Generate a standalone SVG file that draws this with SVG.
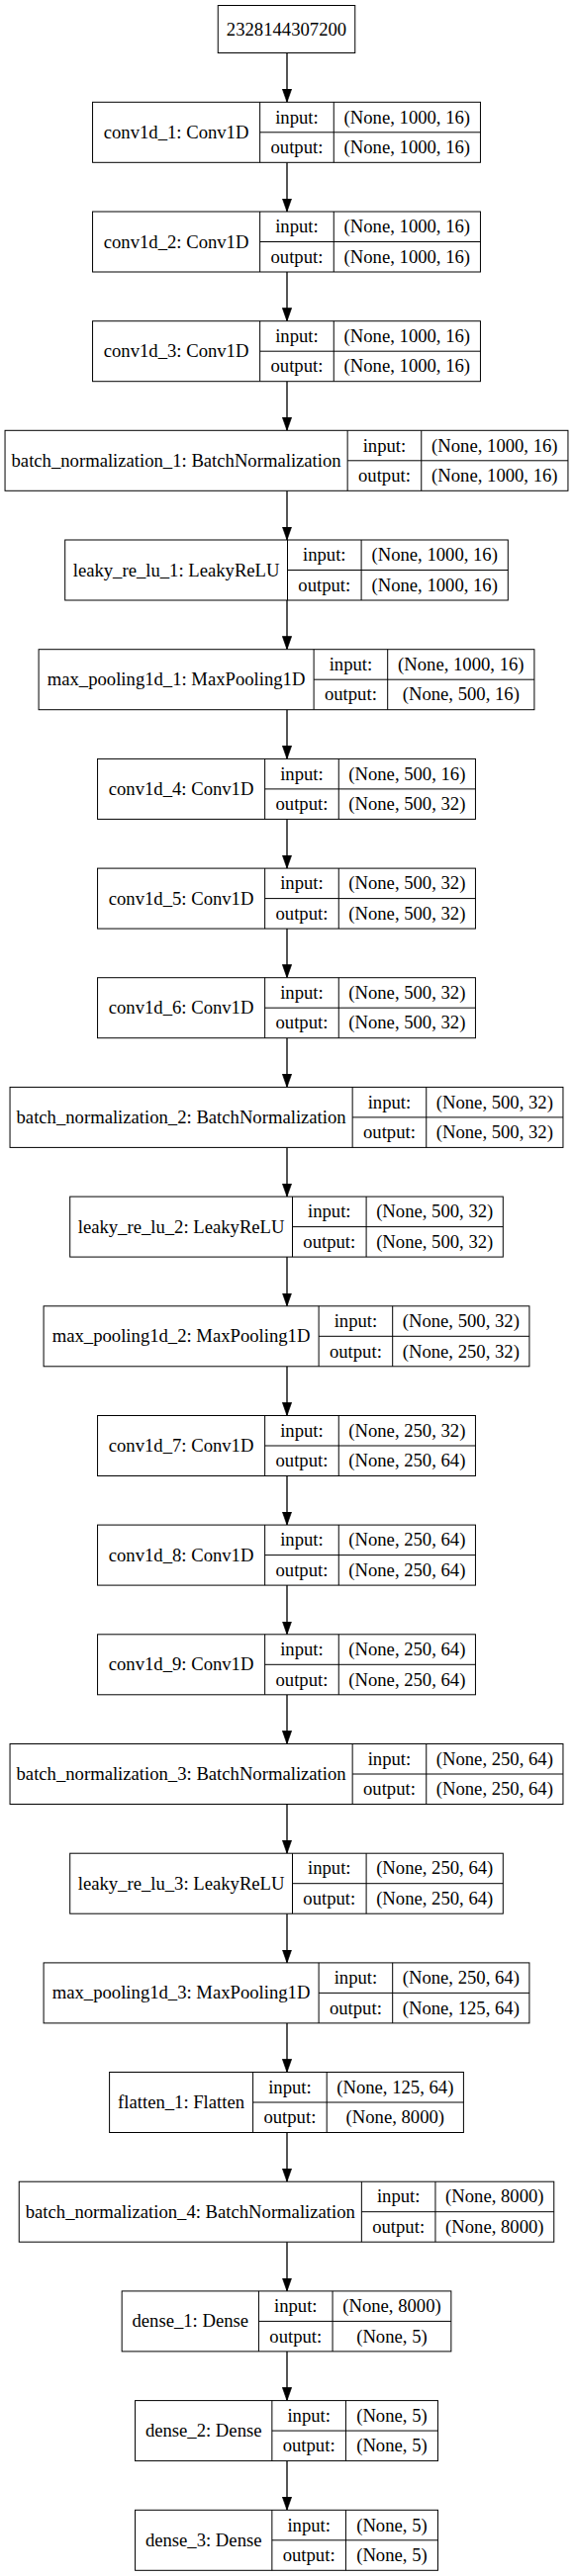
<svg xmlns="http://www.w3.org/2000/svg" width="580" height="2605" viewBox="0 0 580 2605">
<defs>
<style>
.b{fill:#ffffff;stroke:#000000;stroke-width:1}
.l{fill:none;stroke:#000000;stroke-width:1}
.t{font-family:"Liberation Serif","Times New Roman",serif;font-size:18.67px;text-anchor:middle;fill:#000000}
.e{fill:none;stroke:#000000;stroke-width:1.33}
</style>
<marker id="ah" viewBox="0 0 10 7" refX="10" refY="3.5" markerWidth="13.3" markerHeight="9.3" markerUnits="userSpaceOnUse" orient="auto">
<path d="M0,0L10,3.5L0,7z" fill="#000000" stroke="#000000" stroke-width="0.5"/>
</marker>
</defs>
<rect x="0" y="0" width="580" height="2605" fill="#ffffff"/>
<g id="connectors">
<path class="e" marker-end="url(#ah)" d="M290,53.5V103.3"/>
<path class="e" marker-end="url(#ah)" d="M290,164.3V214"/>
<path class="e" marker-end="url(#ah)" d="M290,275V324.7"/>
<path class="e" marker-end="url(#ah)" d="M290,385.7V435.3"/>
<path class="e" marker-end="url(#ah)" d="M290,496.3V546"/>
<path class="e" marker-end="url(#ah)" d="M290,607V656.7"/>
<path class="e" marker-end="url(#ah)" d="M290,717.7V767.4"/>
<path class="e" marker-end="url(#ah)" d="M290,828.4V878.1"/>
<path class="e" marker-end="url(#ah)" d="M290,939.1V988.7"/>
<path class="e" marker-end="url(#ah)" d="M290,1049.7V1099.4"/>
<path class="e" marker-end="url(#ah)" d="M290,1160.4V1210.1"/>
<path class="e" marker-end="url(#ah)" d="M290,1271.1V1320.8"/>
<path class="e" marker-end="url(#ah)" d="M290,1381.8V1431.5"/>
<path class="e" marker-end="url(#ah)" d="M290,1492.5V1542.1"/>
<path class="e" marker-end="url(#ah)" d="M290,1603.1V1652.8"/>
<path class="e" marker-end="url(#ah)" d="M290,1713.8V1763.5"/>
<path class="e" marker-end="url(#ah)" d="M290,1824.5V1874.2"/>
<path class="e" marker-end="url(#ah)" d="M290,1935.2V1984.9"/>
<path class="e" marker-end="url(#ah)" d="M290,2045.9V2095.5"/>
<path class="e" marker-end="url(#ah)" d="M290,2156.5V2206.2"/>
<path class="e" marker-end="url(#ah)" d="M290,2267.2V2316.9"/>
<path class="e" marker-end="url(#ah)" d="M290,2377.9V2427.6"/>
<path class="e" marker-end="url(#ah)" d="M290,2488.6V2538.3"/>
</g>
<g id="n0">
<rect class="b" x="220.25" y="5.5" width="138.5" height="48"/>
<text class="t" x="289.5" y="35.5">2328144307200</text>
</g>
<g id="n1" transform="translate(0,103.3)">
<rect class="b" x="93.55" y="0" width="391.9" height="61"/>
<path class="l" d="M262.65,0V61M337.25,0V61M262.65,30.5H485.45"/>
<text class="t" x="178.1" y="36.5">conv1d_1: Conv1D</text>
<text class="t" x="299.95" y="21.25">input:</text>
<text class="t" x="299.95" y="51.75">output:</text>
<text class="t" x="411.35" y="21.25">(None, 1000, 16)</text>
<text class="t" x="411.35" y="51.75">(None, 1000, 16)</text>
</g>
<g id="n2" transform="translate(0,214)">
<rect class="b" x="93.55" y="0" width="391.9" height="61"/>
<path class="l" d="M262.65,0V61M337.25,0V61M262.65,30.5H485.45"/>
<text class="t" x="178.1" y="36.5">conv1d_2: Conv1D</text>
<text class="t" x="299.95" y="21.25">input:</text>
<text class="t" x="299.95" y="51.75">output:</text>
<text class="t" x="411.35" y="21.25">(None, 1000, 16)</text>
<text class="t" x="411.35" y="51.75">(None, 1000, 16)</text>
</g>
<g id="n3" transform="translate(0,324.7)">
<rect class="b" x="93.55" y="0" width="391.9" height="61"/>
<path class="l" d="M262.65,0V61M337.25,0V61M262.65,30.5H485.45"/>
<text class="t" x="178.1" y="36.5">conv1d_3: Conv1D</text>
<text class="t" x="299.95" y="21.25">input:</text>
<text class="t" x="299.95" y="51.75">output:</text>
<text class="t" x="411.35" y="21.25">(None, 1000, 16)</text>
<text class="t" x="411.35" y="51.75">(None, 1000, 16)</text>
</g>
<g id="n4" transform="translate(0,435.3)">
<rect class="b" x="5.05" y="0" width="568.9" height="61"/>
<path class="l" d="M351.15,0V61M425.75,0V61M351.15,30.5H573.95"/>
<text class="t" x="178.1" y="36.5">batch_normalization_1: BatchNormalization</text>
<text class="t" x="388.45" y="21.25">input:</text>
<text class="t" x="388.45" y="51.75">output:</text>
<text class="t" x="499.85" y="21.25">(None, 1000, 16)</text>
<text class="t" x="499.85" y="51.75">(None, 1000, 16)</text>
</g>
<g id="n5" transform="translate(0,546)">
<rect class="b" x="65.7" y="0" width="447.6" height="61"/>
<path class="l" d="M290.5,0V61M365.1,0V61M290.5,30.5H513.3"/>
<text class="t" x="178.1" y="36.5">leaky_re_lu_1: LeakyReLU</text>
<text class="t" x="327.8" y="21.25">input:</text>
<text class="t" x="327.8" y="51.75">output:</text>
<text class="t" x="439.2" y="21.25">(None, 1000, 16)</text>
<text class="t" x="439.2" y="51.75">(None, 1000, 16)</text>
</g>
<g id="n6" transform="translate(0,656.7)">
<rect class="b" x="39.1" y="0" width="500.8" height="61"/>
<path class="l" d="M317.1,0V61M391.7,0V61M317.1,30.5H539.9"/>
<text class="t" x="178.1" y="36.5">max_pooling1d_1: MaxPooling1D</text>
<text class="t" x="354.4" y="21.25">input:</text>
<text class="t" x="354.4" y="51.75">output:</text>
<text class="t" x="465.8" y="21.25">(None, 1000, 16)</text>
<text class="t" x="465.8" y="51.75">(None, 500, 16)</text>
</g>
<g id="n7" transform="translate(0,767.4)">
<rect class="b" x="98.55" y="0" width="381.9" height="61"/>
<path class="l" d="M267.65,0V61M342.25,0V61M267.65,30.5H480.45"/>
<text class="t" x="183.1" y="36.5">conv1d_4: Conv1D</text>
<text class="t" x="304.95" y="21.25">input:</text>
<text class="t" x="304.95" y="51.75">output:</text>
<text class="t" x="411.35" y="21.25">(None, 500, 16)</text>
<text class="t" x="411.35" y="51.75">(None, 500, 32)</text>
</g>
<g id="n8" transform="translate(0,878.1)">
<rect class="b" x="98.55" y="0" width="381.9" height="61"/>
<path class="l" d="M267.65,0V61M342.25,0V61M267.65,30.5H480.45"/>
<text class="t" x="183.1" y="36.5">conv1d_5: Conv1D</text>
<text class="t" x="304.95" y="21.25">input:</text>
<text class="t" x="304.95" y="51.75">output:</text>
<text class="t" x="411.35" y="21.25">(None, 500, 32)</text>
<text class="t" x="411.35" y="51.75">(None, 500, 32)</text>
</g>
<g id="n9" transform="translate(0,988.7)">
<rect class="b" x="98.55" y="0" width="381.9" height="61"/>
<path class="l" d="M267.65,0V61M342.25,0V61M267.65,30.5H480.45"/>
<text class="t" x="183.1" y="36.5">conv1d_6: Conv1D</text>
<text class="t" x="304.95" y="21.25">input:</text>
<text class="t" x="304.95" y="51.75">output:</text>
<text class="t" x="411.35" y="21.25">(None, 500, 32)</text>
<text class="t" x="411.35" y="51.75">(None, 500, 32)</text>
</g>
<g id="n10" transform="translate(0,1099.4)">
<rect class="b" x="10.05" y="0" width="558.9" height="61"/>
<path class="l" d="M356.15,0V61M430.75,0V61M356.15,30.5H568.95"/>
<text class="t" x="183.1" y="36.5">batch_normalization_2: BatchNormalization</text>
<text class="t" x="393.45" y="21.25">input:</text>
<text class="t" x="393.45" y="51.75">output:</text>
<text class="t" x="499.85" y="21.25">(None, 500, 32)</text>
<text class="t" x="499.85" y="51.75">(None, 500, 32)</text>
</g>
<g id="n11" transform="translate(0,1210.1)">
<rect class="b" x="70.7" y="0" width="437.6" height="61"/>
<path class="l" d="M295.5,0V61M370.1,0V61M295.5,30.5H508.3"/>
<text class="t" x="183.1" y="36.5">leaky_re_lu_2: LeakyReLU</text>
<text class="t" x="332.8" y="21.25">input:</text>
<text class="t" x="332.8" y="51.75">output:</text>
<text class="t" x="439.2" y="21.25">(None, 500, 32)</text>
<text class="t" x="439.2" y="51.75">(None, 500, 32)</text>
</g>
<g id="n12" transform="translate(0,1320.8)">
<rect class="b" x="44.1" y="0" width="490.8" height="61"/>
<path class="l" d="M322.1,0V61M396.7,0V61M322.1,30.5H534.9"/>
<text class="t" x="183.1" y="36.5">max_pooling1d_2: MaxPooling1D</text>
<text class="t" x="359.4" y="21.25">input:</text>
<text class="t" x="359.4" y="51.75">output:</text>
<text class="t" x="465.8" y="21.25">(None, 500, 32)</text>
<text class="t" x="465.8" y="51.75">(None, 250, 32)</text>
</g>
<g id="n13" transform="translate(0,1431.5)">
<rect class="b" x="98.55" y="0" width="381.9" height="61"/>
<path class="l" d="M267.65,0V61M342.25,0V61M267.65,30.5H480.45"/>
<text class="t" x="183.1" y="36.5">conv1d_7: Conv1D</text>
<text class="t" x="304.95" y="21.25">input:</text>
<text class="t" x="304.95" y="51.75">output:</text>
<text class="t" x="411.35" y="21.25">(None, 250, 32)</text>
<text class="t" x="411.35" y="51.75">(None, 250, 64)</text>
</g>
<g id="n14" transform="translate(0,1542.1)">
<rect class="b" x="98.55" y="0" width="381.9" height="61"/>
<path class="l" d="M267.65,0V61M342.25,0V61M267.65,30.5H480.45"/>
<text class="t" x="183.1" y="36.5">conv1d_8: Conv1D</text>
<text class="t" x="304.95" y="21.25">input:</text>
<text class="t" x="304.95" y="51.75">output:</text>
<text class="t" x="411.35" y="21.25">(None, 250, 64)</text>
<text class="t" x="411.35" y="51.75">(None, 250, 64)</text>
</g>
<g id="n15" transform="translate(0,1652.8)">
<rect class="b" x="98.55" y="0" width="381.9" height="61"/>
<path class="l" d="M267.65,0V61M342.25,0V61M267.65,30.5H480.45"/>
<text class="t" x="183.1" y="36.5">conv1d_9: Conv1D</text>
<text class="t" x="304.95" y="21.25">input:</text>
<text class="t" x="304.95" y="51.75">output:</text>
<text class="t" x="411.35" y="21.25">(None, 250, 64)</text>
<text class="t" x="411.35" y="51.75">(None, 250, 64)</text>
</g>
<g id="n16" transform="translate(0,1763.5)">
<rect class="b" x="10.05" y="0" width="558.9" height="61"/>
<path class="l" d="M356.15,0V61M430.75,0V61M356.15,30.5H568.95"/>
<text class="t" x="183.1" y="36.5">batch_normalization_3: BatchNormalization</text>
<text class="t" x="393.45" y="21.25">input:</text>
<text class="t" x="393.45" y="51.75">output:</text>
<text class="t" x="499.85" y="21.25">(None, 250, 64)</text>
<text class="t" x="499.85" y="51.75">(None, 250, 64)</text>
</g>
<g id="n17" transform="translate(0,1874.2)">
<rect class="b" x="70.7" y="0" width="437.6" height="61"/>
<path class="l" d="M295.5,0V61M370.1,0V61M295.5,30.5H508.3"/>
<text class="t" x="183.1" y="36.5">leaky_re_lu_3: LeakyReLU</text>
<text class="t" x="332.8" y="21.25">input:</text>
<text class="t" x="332.8" y="51.75">output:</text>
<text class="t" x="439.2" y="21.25">(None, 250, 64)</text>
<text class="t" x="439.2" y="51.75">(None, 250, 64)</text>
</g>
<g id="n18" transform="translate(0,1984.9)">
<rect class="b" x="44.1" y="0" width="490.8" height="61"/>
<path class="l" d="M322.1,0V61M396.7,0V61M322.1,30.5H534.9"/>
<text class="t" x="183.1" y="36.5">max_pooling1d_3: MaxPooling1D</text>
<text class="t" x="359.4" y="21.25">input:</text>
<text class="t" x="359.4" y="51.75">output:</text>
<text class="t" x="465.8" y="21.25">(None, 250, 64)</text>
<text class="t" x="465.8" y="51.75">(None, 125, 64)</text>
</g>
<g id="n19" transform="translate(0,2095.5)">
<rect class="b" x="110.6" y="0" width="357.8" height="61"/>
<path class="l" d="M255.6,0V61M330.2,0V61M255.6,30.5H468.4"/>
<text class="t" x="183.1" y="36.5">flatten_1: Flatten</text>
<text class="t" x="292.9" y="21.25">input:</text>
<text class="t" x="292.9" y="51.75">output:</text>
<text class="t" x="399.3" y="21.25">(None, 125, 64)</text>
<text class="t" x="399.3" y="51.75">(None, 8000)</text>
</g>
<g id="n20" transform="translate(0,2206.2)">
<rect class="b" x="19.25" y="0" width="540.5" height="61"/>
<path class="l" d="M365.35,0V61M439.95,0V61M365.35,30.5H559.75"/>
<text class="t" x="192.3" y="36.5">batch_normalization_4: BatchNormalization</text>
<text class="t" x="402.65" y="21.25">input:</text>
<text class="t" x="402.65" y="51.75">output:</text>
<text class="t" x="499.85" y="21.25">(None, 8000)</text>
<text class="t" x="499.85" y="51.75">(None, 8000)</text>
</g>
<g id="n21" transform="translate(0,2316.9)">
<rect class="b" x="123.15" y="0" width="332.7" height="61"/>
<path class="l" d="M261.45,0V61M336.05,0V61M261.45,30.5H455.85"/>
<text class="t" x="192.3" y="36.5">dense_1: Dense</text>
<text class="t" x="298.75" y="21.25">input:</text>
<text class="t" x="298.75" y="51.75">output:</text>
<text class="t" x="395.95" y="21.25">(None, 8000)</text>
<text class="t" x="395.95" y="51.75">(None, 5)</text>
</g>
<g id="n22" transform="translate(0,2427.6)">
<rect class="b" x="136.55" y="0" width="305.9" height="61"/>
<path class="l" d="M274.85,0V61M349.45,0V61M274.85,30.5H442.45"/>
<text class="t" x="205.7" y="36.5">dense_2: Dense</text>
<text class="t" x="312.15" y="21.25">input:</text>
<text class="t" x="312.15" y="51.75">output:</text>
<text class="t" x="395.95" y="21.25">(None, 5)</text>
<text class="t" x="395.95" y="51.75">(None, 5)</text>
</g>
<g id="n23" transform="translate(0,2538.3)">
<rect class="b" x="136.55" y="0" width="305.9" height="61"/>
<path class="l" d="M274.85,0V61M349.45,0V61M274.85,30.5H442.45"/>
<text class="t" x="205.7" y="36.5">dense_3: Dense</text>
<text class="t" x="312.15" y="21.25">input:</text>
<text class="t" x="312.15" y="51.75">output:</text>
<text class="t" x="395.95" y="21.25">(None, 5)</text>
<text class="t" x="395.95" y="51.75">(None, 5)</text>
</g>
</svg>
